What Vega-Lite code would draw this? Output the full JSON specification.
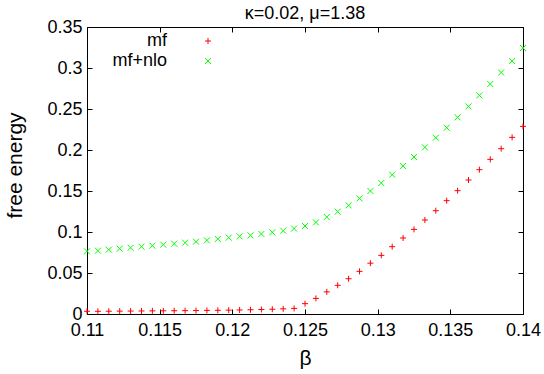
{
  "$schema": "https://vega.github.io/schema/vega-lite/v6.json",
  "width": 436,
  "height": 287,
  "autosize": "none",
  "padding": {"left": 87, "top": 27, "right": 21, "bottom": 61},
  "background": "white",
  "config": {
    "font": "Liberation Sans",
    "view": {"stroke": "black", "strokeWidth": 1},
    "axis": {"grid": false, "domain": false, "tickColor": "black", "tickSize": -5, "labelFontSize": 18, "labelColor": "black", "titleFontSize": 21, "titleFontWeight": "normal", "titleColor": "black", "labelFont": "Liberation Sans", "titleFont": "Liberation Sans"}
  },
  "title": {"text": "κ=0.02, μ=1.38", "fontSize": 18, "fontWeight": "normal", "font": "Liberation Sans", "offset": 3, "dy": 8, "color": "black"},
  "data": {"values": [
    {"beta": 0.11, "series": "mf", "f": 0.0033},
    {"beta": 0.11075, "series": "mf", "f": 0.0033},
    {"beta": 0.1115, "series": "mf", "f": 0.0034},
    {"beta": 0.11225, "series": "mf", "f": 0.0035},
    {"beta": 0.113, "series": "mf", "f": 0.0036},
    {"beta": 0.11375, "series": "mf", "f": 0.0037},
    {"beta": 0.1145, "series": "mf", "f": 0.0038},
    {"beta": 0.11525, "series": "mf", "f": 0.0039},
    {"beta": 0.116, "series": "mf", "f": 0.004},
    {"beta": 0.11675, "series": "mf", "f": 0.0041},
    {"beta": 0.1175, "series": "mf", "f": 0.0042},
    {"beta": 0.11825, "series": "mf", "f": 0.0044},
    {"beta": 0.119, "series": "mf", "f": 0.0045},
    {"beta": 0.11975, "series": "mf", "f": 0.0047},
    {"beta": 0.1205, "series": "mf", "f": 0.0049},
    {"beta": 0.12125, "series": "mf", "f": 0.0052},
    {"beta": 0.122, "series": "mf", "f": 0.0055},
    {"beta": 0.12275, "series": "mf", "f": 0.0058},
    {"beta": 0.1235, "series": "mf", "f": 0.0063},
    {"beta": 0.12425, "series": "mf", "f": 0.0068},
    {"beta": 0.125, "series": "mf", "f": 0.0126},
    {"beta": 0.12575, "series": "mf", "f": 0.019},
    {"beta": 0.1265, "series": "mf", "f": 0.027},
    {"beta": 0.12725, "series": "mf", "f": 0.035},
    {"beta": 0.128, "series": "mf", "f": 0.043},
    {"beta": 0.12875, "series": "mf", "f": 0.052},
    {"beta": 0.1295, "series": "mf", "f": 0.062},
    {"beta": 0.13025, "series": "mf", "f": 0.0715},
    {"beta": 0.131, "series": "mf", "f": 0.0821},
    {"beta": 0.13175, "series": "mf", "f": 0.0927},
    {"beta": 0.1325, "series": "mf", "f": 0.1032},
    {"beta": 0.13325, "series": "mf", "f": 0.1146},
    {"beta": 0.134, "series": "mf", "f": 0.126},
    {"beta": 0.13475, "series": "mf", "f": 0.1382},
    {"beta": 0.1355, "series": "mf", "f": 0.1504},
    {"beta": 0.13625, "series": "mf", "f": 0.1634},
    {"beta": 0.137, "series": "mf", "f": 0.176},
    {"beta": 0.13775, "series": "mf", "f": 0.1886},
    {"beta": 0.1385, "series": "mf", "f": 0.2016},
    {"beta": 0.13925, "series": "mf", "f": 0.2154},
    {"beta": 0.14, "series": "mf", "f": 0.2288},
    {"beta": 0.11, "series": "mf+nlo", "f": 0.0764},
    {"beta": 0.11075, "series": "mf+nlo", "f": 0.0772},
    {"beta": 0.1115, "series": "mf+nlo", "f": 0.0785},
    {"beta": 0.11225, "series": "mf+nlo", "f": 0.0797},
    {"beta": 0.113, "series": "mf+nlo", "f": 0.0807},
    {"beta": 0.11375, "series": "mf+nlo", "f": 0.0821},
    {"beta": 0.1145, "series": "mf+nlo", "f": 0.0833},
    {"beta": 0.11525, "series": "mf+nlo", "f": 0.0846},
    {"beta": 0.116, "series": "mf+nlo", "f": 0.0858},
    {"beta": 0.11675, "series": "mf+nlo", "f": 0.087},
    {"beta": 0.1175, "series": "mf+nlo", "f": 0.0882},
    {"beta": 0.11825, "series": "mf+nlo", "f": 0.0898},
    {"beta": 0.119, "series": "mf+nlo", "f": 0.0915},
    {"beta": 0.11975, "series": "mf+nlo", "f": 0.0931},
    {"beta": 0.1205, "series": "mf+nlo", "f": 0.0947},
    {"beta": 0.12125, "series": "mf+nlo", "f": 0.0959},
    {"beta": 0.122, "series": "mf+nlo", "f": 0.0976},
    {"beta": 0.12275, "series": "mf+nlo", "f": 0.0996},
    {"beta": 0.1235, "series": "mf+nlo", "f": 0.1016},
    {"beta": 0.12425, "series": "mf+nlo", "f": 0.1042},
    {"beta": 0.125, "series": "mf+nlo", "f": 0.1073},
    {"beta": 0.12575, "series": "mf+nlo", "f": 0.1117},
    {"beta": 0.1265, "series": "mf+nlo", "f": 0.1183},
    {"beta": 0.12725, "series": "mf+nlo", "f": 0.1248},
    {"beta": 0.128, "series": "mf+nlo", "f": 0.1325},
    {"beta": 0.12875, "series": "mf+nlo", "f": 0.141},
    {"beta": 0.1295, "series": "mf+nlo", "f": 0.15},
    {"beta": 0.13025, "series": "mf+nlo", "f": 0.1597},
    {"beta": 0.131, "series": "mf+nlo", "f": 0.1699},
    {"beta": 0.13175, "series": "mf+nlo", "f": 0.1805},
    {"beta": 0.1325, "series": "mf+nlo", "f": 0.1915},
    {"beta": 0.13325, "series": "mf+nlo", "f": 0.2032},
    {"beta": 0.134, "series": "mf+nlo", "f": 0.215},
    {"beta": 0.13475, "series": "mf+nlo", "f": 0.2272},
    {"beta": 0.1355, "series": "mf+nlo", "f": 0.2398},
    {"beta": 0.13625, "series": "mf+nlo", "f": 0.2532},
    {"beta": 0.137, "series": "mf+nlo", "f": 0.2666},
    {"beta": 0.13775, "series": "mf+nlo", "f": 0.2805},
    {"beta": 0.1385, "series": "mf+nlo", "f": 0.2945},
    {"beta": 0.13925, "series": "mf+nlo", "f": 0.3085},
    {"beta": 0.14, "series": "mf+nlo", "f": 0.3244}
  ]},
  "layer": [
    {
      "mark": {"type": "point", "filled": false, "strokeWidth": 1, "size": 36, "opacity": 1},
      "encoding": {
        "x": {"field": "beta", "type": "quantitative", "scale": {"domain": [0.11, 0.14], "nice": false, "zero": false},
              "axis": {"title": "β", "values": [0.11, 0.115, 0.12, 0.125, 0.13, 0.135, 0.14], "format": "~g", "labelPadding": 12, "titleY": 33, "titleBaseline": "top", "labelFlush": false}},
        "y": {"field": "f", "type": "quantitative", "scale": {"domain": [0, 0.35], "nice": false},
              "axis": {"title": "free energy", "values": [0, 0.05, 0.1, 0.15, 0.2, 0.25, 0.3, 0.35], "format": "~g", "labelPadding": 10, "titleX": -62, "titleY": 138, "titleAngle": -90, "titleBaseline": "bottom", "titleAnchor": "middle"}},
        "color": {"field": "series", "type": "nominal", "scale": {"domain": ["mf", "mf+nlo"], "range": ["#ff0000", "#00ff00"]},
                  "legend": {"title": null, "orient": "none", "legendX": 112, "legendY": 5, "labelAlign": "right", "labelOffset": -50, "labelFontSize": 18, "labelColor": "black", "rowPadding": 2, "symbolStrokeWidth": 1, "symbolSize": 36, "labelFont": "Liberation Sans"}},
        "shape": {"field": "series", "type": "nominal", "scale": {"domain": ["mf", "mf+nlo"], "range": ["M-1,0L1,0M0,-1L0,1", "M-1,-1L1,1M-1,1L1,-1"]}}
      }
    },
    {
      "mark": {"type": "point", "opacity": 0},
      "encoding": {
        "x": {"field": "beta", "type": "quantitative", "axis": {"orient": "top", "labels": false, "title": null, "values": [0.11, 0.115, 0.12, 0.125, 0.13, 0.135, 0.14]}},
        "y": {"field": "f", "type": "quantitative", "axis": {"orient": "right", "labels": false, "title": null, "values": [0, 0.05, 0.1, 0.15, 0.2, 0.25, 0.3, 0.35]}}
      }
    }
  ],
  "resolve": {"axis": {"x": "independent", "y": "independent"}}
}
